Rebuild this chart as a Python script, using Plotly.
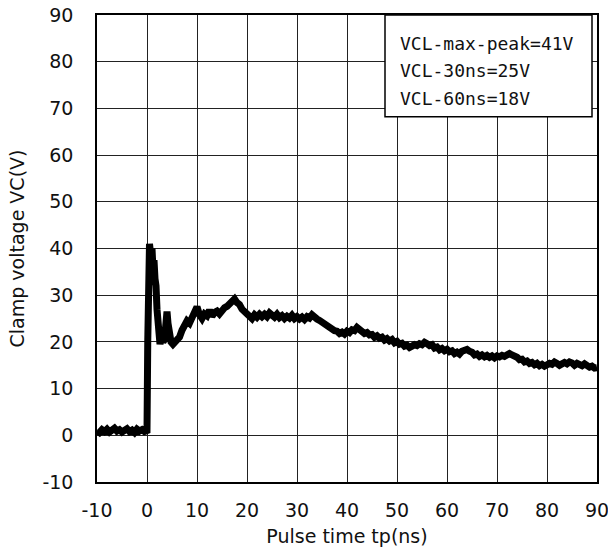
import plotly.graph_objects as go

# ---- data (time in ns, clamp voltage in V) ----
t_pre = [-10, -9.5, -9, -8.5, -8, -7.5, -7, -6.5, -6, -5.5, -5, -4.5, -4, -3.5, -3,
         -2.5, -2, -1.5, -1, -0.5, 0]
v_pre = [1.0, 0.6, 1.2, 0.8, 1.3, 0.7, 1.1, 1.5, 0.9, 1.2, 0.7, 1.0, 1.4, 0.8, 1.1,
         0.6, 1.3, 0.9, 1.2, 0.8, 1.0]

t_spike = [0.15, 0.3, 0.5, 0.8, 1.0, 1.2, 1.4, 1.6, 1.8, 2.0, 2.3, 2.6, 2.9, 3.2, 3.5,
           3.8, 4.0, 4.2, 4.5, 4.8, 5.2, 5.6, 6.0, 6.5, 7.0, 7.5, 8.0, 8.5, 9.0, 9.5]
v_spike = [20.0, 38.0, 41.0, 38.0, 40.0, 35.5, 37.5, 33.5, 32.0, 27.0, 20.5, 19.5, 21.5,
           20.0, 20.5, 24.0, 26.5, 24.0, 20.5, 20.0, 19.5, 20.0, 20.5, 21.0, 22.5, 24.0,
           24.5, 24.0, 25.0, 26.5]

t_tail = [10, 10.5, 11, 11.5, 12, 12.5, 13, 13.5, 14, 14.5, 15, 15.5, 16, 16.5, 17, 17.5,
          18, 18.5, 19, 19.5, 20, 20.5, 21, 21.5, 22, 22.5, 23, 23.5, 24, 24.5, 25, 25.5,
          26, 26.5, 27, 27.5, 28, 28.5, 29, 29.5, 30, 30.5, 31, 31.5, 32, 32.5, 33, 33.5,
          34, 34.5, 35, 35.5, 36, 36.5, 37, 37.5, 38, 38.5, 39, 39.5, 40, 40.5, 41, 41.5,
          42, 42.5, 43, 43.5, 44, 44.5, 45, 45.5, 46, 46.5, 47, 47.5, 48, 48.5, 49, 49.5,
          50, 50.5, 51, 51.5, 52, 52.5, 53, 53.5, 54, 54.5, 55, 55.5, 56, 56.5, 57, 57.5,
          58, 58.5, 59, 59.5, 60, 60.5, 61, 61.5, 62, 62.5, 63, 63.5, 64, 64.5, 65, 65.5,
          66, 66.5, 67, 67.5, 68, 68.5, 69, 69.5, 70, 70.5, 71, 71.5, 72, 72.5, 73, 73.5,
          74, 74.5, 75, 75.5, 76, 76.5, 77, 77.5, 78, 78.5, 79, 79.5, 80, 80.5, 81, 81.5,
          82, 82.5, 83, 83.5, 84, 84.5, 85, 85.5, 86, 86.5, 87, 87.5, 88, 88.5, 89, 89.5, 90]
v_tail = [27.5, 25.8, 25.0, 26.0, 25.6, 26.8, 25.5, 26.3, 26.6, 26.0, 26.9, 27.3, 27.6, 28.0,
          28.6, 29.2, 28.4, 28.0, 27.0, 26.6, 26.0, 25.6, 25.0, 25.8, 25.3, 25.9, 25.4, 25.9,
          25.4, 26.2, 25.7, 25.3, 25.9, 25.2, 25.6, 25.0, 25.5, 25.1, 25.7, 25.0, 25.4, 24.9,
          25.3, 24.8, 25.4, 25.1, 25.8, 25.2, 24.9, 24.6, 24.2, 23.9, 23.7, 23.2, 23.0, 22.4,
          22.3, 21.8, 22.1, 21.7, 22.3, 22.0, 22.6, 22.4, 23.1, 22.5, 22.4, 21.8, 22.0, 21.5,
          21.6, 21.0, 21.3, 20.8, 21.0, 20.4, 20.7, 20.2, 20.5, 19.8, 20.1, 19.5, 19.7, 19.1,
          19.3, 18.8, 19.1, 19.4, 19.2, 19.6, 19.4, 19.9, 19.6, 19.2, 19.4, 18.7, 18.9, 18.3,
          18.6, 18.1, 18.4, 17.9, 18.1, 17.5, 17.8, 17.4, 18.0, 18.2, 18.4, 18.0, 17.8, 17.2,
          17.4, 16.9, 17.2, 16.8, 17.1, 16.7, 17.0, 16.6, 17.0, 16.8, 17.1, 16.9, 17.2, 17.5,
          17.2, 17.0, 16.7, 16.2, 16.3, 15.7, 15.9, 15.4, 15.6, 15.1, 15.4, 14.9, 15.2, 14.8,
          15.1, 15.4, 15.2, 15.7, 15.4, 15.0, 15.3, 15.6, 15.3, 15.7, 15.5, 15.0, 15.4, 15.1,
          14.9, 15.3, 15.0, 14.6, 14.8, 14.4, 14.5]

x_ticks = [-10, 0, 10, 20, 30, 40, 50, 60, 70, 80, 90]
y_ticks = [-10, 0, 10, 20, 30, 40, 50, 60, 70, 80, 90]

notes = ["VCL-max-peak=41V", "VCL-30ns=25V", "VCL-60ns=18V"]

t_all = t_pre + t_spike + t_tail
v_all = v_pre + v_spike + v_tail

fig = go.Figure()
fig.add_trace(go.Scatter(x=t_all, y=v_all, mode="lines",
                         line=dict(color="black", width=7), showlegend=False,
                         hoverinfo="skip"))

tfont = dict(family="DejaVu Sans", size=19, color="#111")
axis_common = dict(showgrid=True, gridcolor="#222", gridwidth=1, automargin=False,
                   zeroline=False, showline=True, linecolor="black", linewidth=1.5,
                   mirror=True, ticks="", tickfont=tfont, ticklabeloverflow="allow")

fig.update_xaxes(range=[-10, 90], tickvals=x_ticks, ticktext=[str(v) for v in x_ticks],
                 title=dict(text="Pulse time tp(ns)", font=tfont, standoff=10),
                 ticklabelstandoff=10, **axis_common)
fig.update_yaxes(range=[-10, 90], tickvals=y_ticks, ticktext=[str(v) for v in y_ticks],
                 title=dict(text="Clamp voltage VC(V)", font=tfont, standoff=13),
                 ticklabelstandoff=18, **axis_common)

# text box
fig.add_shape(type="rect", xref="paper", yref="paper", x0=0.576, x1=0.99, y0=0.782, y1=1.0,
              line=dict(color="black", width=1.5), fillcolor="white", layer="above")
ys = [0.940, 0.882, 0.822]
for txt, yy in zip(notes, ys):
    fig.add_annotation(text=txt, xref="paper", yref="paper", x=0.602, y=yy,
                       xanchor="left", yanchor="middle", showarrow=False,
                       font=dict(family="DejaVu Sans Mono", size=18, color="#111"))

fig.update_layout(width=608, height=551, plot_bgcolor="white", paper_bgcolor="white",
                  margin=dict(l=97, r=11, t=15, b=69))

fig.write_html("out.html", config={"displayModeBar": False},
               post_script="document.body.style.margin='0px';")
